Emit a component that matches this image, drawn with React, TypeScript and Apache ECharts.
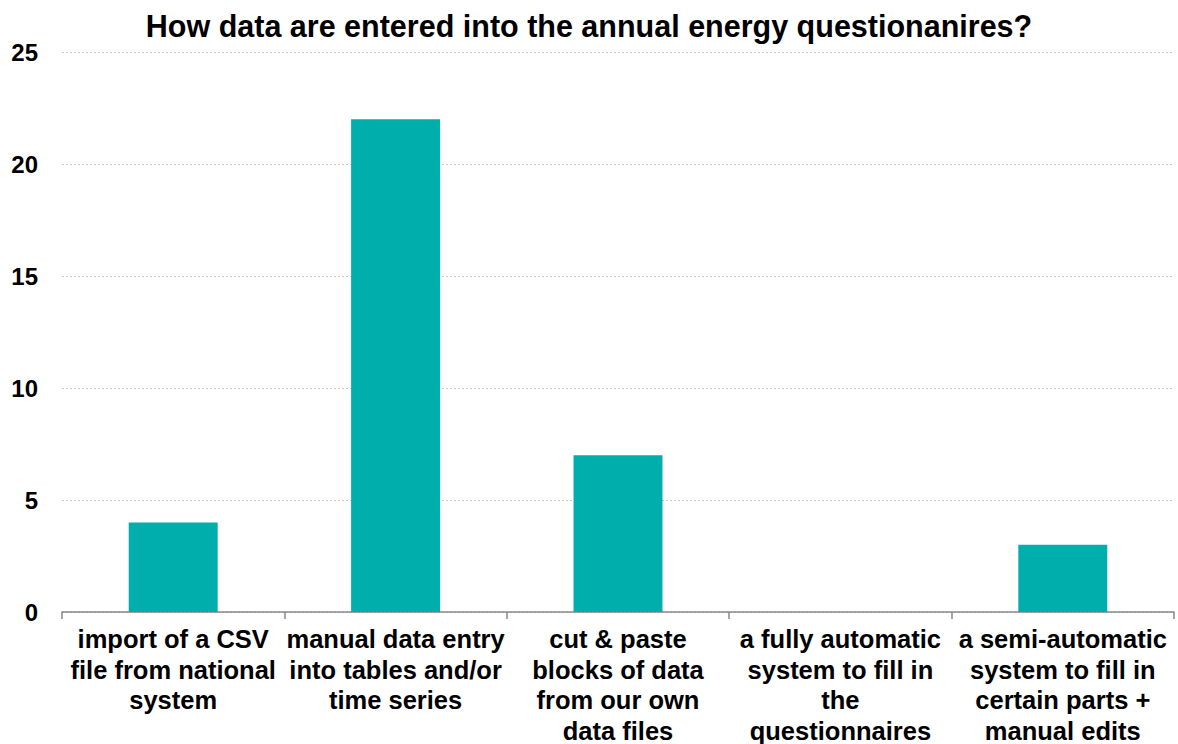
import React, { useEffect, useRef } from "react";
import * as echarts from "echarts";

const categories = [
  "import of a CSV\nfile from national\nsystem",
  "manual data entry\ninto tables and/or\ntime series",
  "cut & paste\nblocks of data\nfrom our own\ndata files",
  "a fully automatic\nsystem to fill in\nthe\nquestionnaires",
  "a semi-automatic\nsystem to fill in\ncertain parts +\nmanual edits",
];
const values = [4, 22, 7, 0, 3];
const title = "How data are entered into the annual energy questionanires?";

export default function App() {
  const ref = useRef<HTMLDivElement>(null);
  useEffect(() => {
    const chart = echarts.init(ref.current!, null, { renderer: "svg" });
    const font = "'Liberation Sans', Arial, sans-serif";
    chart.setOption({
      animation: false,
      title: {
        text: title,
        left: "center",
        top: 5,
        textStyle: { fontFamily: font, fontSize: 30.5, fontWeight: "bold", color: "#000" },
      },
      grid: { left: 62, right: 4, top: 52, bottom: 132, containLabel: false, outerBoundsMode: "none" },
      xAxis: {
        type: "category",
        data: categories,
        axisLine: { show: true, lineStyle: { color: "#888", width: 1.5 } },
        axisTick: { show: true, length: 7, alignWithLabel: false, lineStyle: { color: "#888", width: 1.5 } },
        axisLabel: {
          interval: 0,
          margin: 12,
          fontFamily: font,
          fontSize: 25.5,
          fontWeight: "bold",
          color: "#000",
          lineHeight: 30.5,
        },
      },
      yAxis: {
        type: "value",
        min: 0,
        max: 25,
        interval: 5,
        axisLine: { show: false },
        axisTick: { show: false },
        splitLine: { show: true, lineStyle: { color: "#c8c8c8", type: [2, 2], width: 1 } },
        axisLabel: {
          margin: 24,
          fontFamily: font,
          fontSize: 24,
          fontWeight: "bold",
          color: "#000",
        },
      },
      series: [
        {
          type: "bar",
          data: values,
          barWidth: "40%",
          itemStyle: { color: "#00AFAB" },
        },
      ],
    });
    return () => chart.dispose();
  }, []);
  return (
    <div
      ref={ref}
      style={{ position: "absolute", left: 0, top: 0, width: 1178, height: 744, background: "#fff" }}
    />
  );
}
